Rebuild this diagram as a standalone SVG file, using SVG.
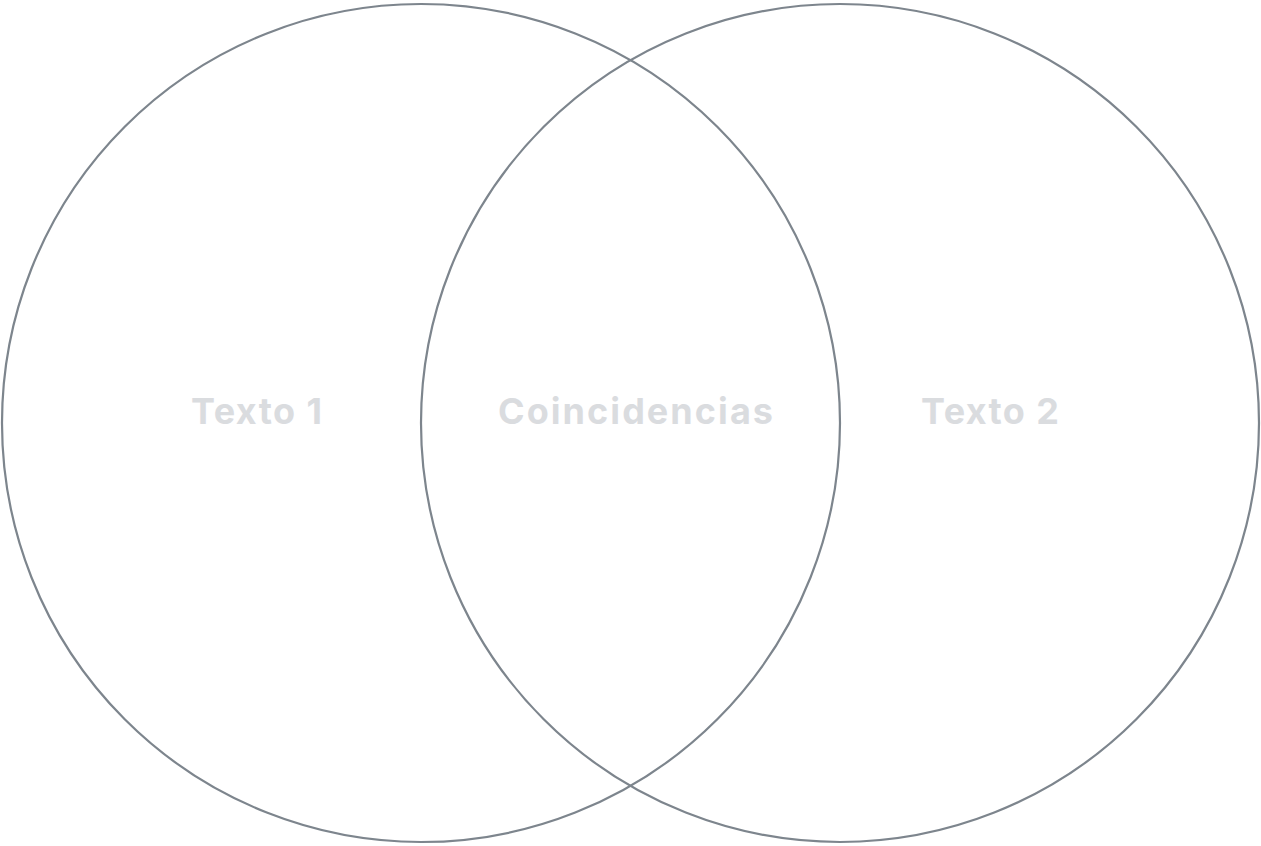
<svg xmlns="http://www.w3.org/2000/svg" width="1261" height="846" viewBox="0 0 1261 846">
<style>
.c{fill:none;stroke:#7d858d;stroke-width:2.2}
.t{font-family:Inter,"Open Sans","Liberation Sans",sans-serif;font-weight:700;font-size:36px;fill:#dadcdf}
</style>
<rect width="1261" height="846" fill="#ffffff"/>
<g id="circle-1"><circle class="c" cx="421" cy="423" r="419"/><text class="t" x="191" y="424" textLength="131" lengthAdjust="spacing">Texto 1</text></g>
<g id="circle-2"><circle class="c" cx="840" cy="423" r="419"/><text class="t" x="921" y="424" textLength="138" lengthAdjust="spacing">Texto 2</text></g>
<g id="intersection"><text class="t" x="498" y="424" textLength="275" lengthAdjust="spacing">Coincidencias</text></g>
<g id="connectors"/>
</svg>
